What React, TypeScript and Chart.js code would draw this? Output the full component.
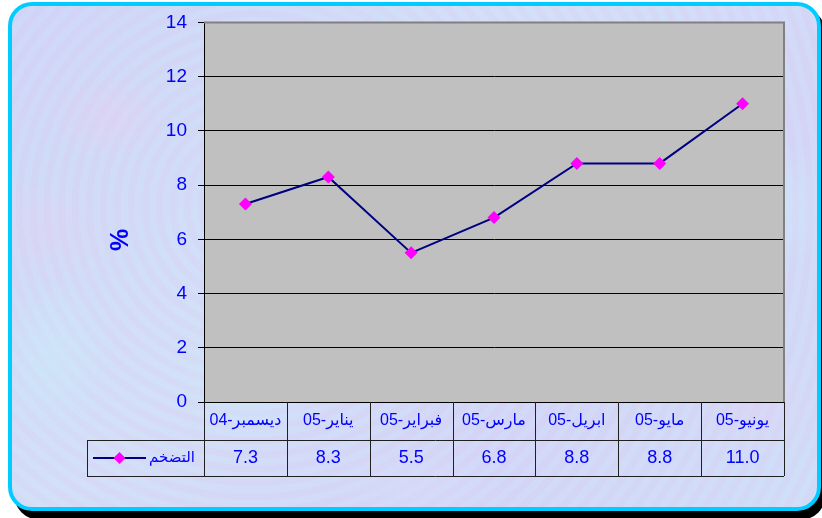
import React, { useEffect, useRef } from 'react';
import { Chart, registerables } from 'chart.js';

Chart.register(...registerables);

const categories = ['ديسمبر-04', 'يناير-05', 'فبراير-05', 'مارس-05', 'ابريل-05', 'مايو-05', 'يونيو-05'];
const inflation = [7.3, 8.3, 5.5, 6.8, 8.8, 8.8, 11.0];
const seriesName = 'التضخم';
const yTicks = [0, 2, 4, 6, 8, 10, 12, 14];

const BLUE = '#0000FF';
const NAVY = '#000080';
const MAGENTA = '#FF00FF';
const FONT = "Arial, 'Liberation Sans', 'DejaVu Sans', sans-serif";

// grey plot background + grey frame on top/right
const plotArea = {
    id: 'plotArea',
    beforeDraw(chart: any) {
        const { ctx, chartArea: a } = chart;
        ctx.save();
        ctx.fillStyle = '#C0C0C0';
        ctx.fillRect(a.left, a.top, a.right - a.left, a.bottom - a.top);
        ctx.restore();
    },
    afterDraw(chart: any) {
        const { ctx, chartArea: a } = chart;
        ctx.save();
        ctx.strokeStyle = '#808080';
        ctx.lineWidth = 2;
        ctx.beginPath();
        ctx.moveTo(a.left, a.top);
        ctx.lineTo(a.right, a.top);
        ctx.lineTo(a.right, a.bottom);
        ctx.stroke();
        ctx.strokeStyle = '#000';
        ctx.lineWidth = 1;
        ctx.beginPath();
        ctx.moveTo(a.left, a.bottom + 0.5);
        ctx.lineTo(a.right, a.bottom + 0.5);
        ctx.stroke();

        // y axis title
        ctx.translate(121, 240);
        ctx.rotate(-Math.PI / 2);
        ctx.fillStyle = BLUE;
        ctx.font = `bold 25px ${FONT}`;
        ctx.textAlign = 'center';
        ctx.textBaseline = 'middle';
        ctx.fillText('%', 0, 0);
        ctx.restore();
    },
};

// data table under the plot, laid out on the x scale
const dataTable = {
    id: 'dataTable',
    afterDraw(chart: any) {
        const { ctx, chartArea: a } = chart;
        const x = chart.scales.x;
        const n = categories.length;
        const w = (a.right - a.left) / n;
        const top = a.bottom;
        const mid = top + 38;
        const bottom = mid + 36;
        const tableLeft = 87;

        ctx.save();
        ctx.strokeStyle = '#202020';
        ctx.lineWidth = 1;
        ctx.beginPath();
        for (let i = 0; i <= n; i++) {
            const bx = Math.round(a.left + i * w) + 0.5;
            ctx.moveTo(bx, top);
            ctx.lineTo(bx, bottom);
        }
        ctx.moveTo(tableLeft, mid + 0.5);
        ctx.lineTo(a.right, mid + 0.5);
        ctx.moveTo(tableLeft, bottom + 0.5);
        ctx.lineTo(a.right, bottom + 0.5);
        ctx.moveTo(tableLeft + 0.5, mid);
        ctx.lineTo(tableLeft + 0.5, bottom);
        ctx.stroke();

        ctx.fillStyle = BLUE;
        ctx.textAlign = 'center';
        ctx.textBaseline = 'middle';
        categories.forEach((c, i) => {
            const cx = x.getPixelForValue(i);
            ctx.font = `16px ${FONT}`;
            ctx.fillText(c, cx, top + 19);
            ctx.font = `18px ${FONT}`;
            ctx.fillText(inflation[i].toFixed(1), cx, mid + 18);
        });

        // legend key
        const ly = mid + 18;
        ctx.strokeStyle = NAVY;
        ctx.lineWidth = 2;
        ctx.beginPath();
        ctx.moveTo(93, ly);
        ctx.lineTo(146, ly);
        ctx.stroke();
        ctx.fillStyle = MAGENTA;
        ctx.beginPath();
        ctx.moveTo(119.5, ly - 6);
        ctx.lineTo(125.5, ly);
        ctx.lineTo(119.5, ly + 6);
        ctx.lineTo(113.5, ly);
        ctx.closePath();
        ctx.fill();
        ctx.fillStyle = BLUE;
        ctx.font = `15px ${FONT}`;
        ctx.textAlign = 'left';
        ctx.fillText(seriesName, 149, ly);
        ctx.restore();
    },
};

const InflationChart = () => {
    const chartRef = useRef<HTMLCanvasElement>(null);

    useEffect(() => {
        document.body.style.margin = '0';
        if (!chartRef.current) return;
        const ctx = chartRef.current.getContext('2d');
        if (!ctx) return;

        const chart = new Chart(ctx, {
            type: 'line',
            data: {
                labels: categories,
                datasets: [{
                    label: seriesName,
                    data: inflation,
                    borderColor: NAVY,
                    borderWidth: 2,
                    pointStyle: 'rectRot',
                    pointRadius: 6.5,
                    pointBackgroundColor: MAGENTA,
                    pointBorderColor: MAGENTA,
                    pointBorderWidth: 0,
                    tension: 0,
                }],
            },
            options: {
                responsive: false,
                animation: false,
                layout: { padding: { left: 0, right: 38, top: 22, bottom: 116 } },
                plugins: { legend: { display: false }, tooltip: { enabled: false } },
                scales: {
                    x: { type: 'category', display: false, offset: true },
                    y: {
                        min: 0,
                        max: 14,
                        afterFit: (s: any) => { s.width = 204; },
                        afterBuildTicks: (s: any) => { s.ticks = yTicks.map(v => ({ value: v })); },
                        border: { display: true, color: '#000', width: 1 },
                        grid: {
                            color: (c: any) => (c.tick && c.tick.value === 14 ? '#808080' : '#000'),
                            lineWidth: 1,
                            tickLength: 6,
                            tickColor: '#000',
                        },
                        ticks: {
                            color: BLUE,
                            font: { family: FONT, size: 19 },
                            padding: 11,
                        },
                    },
                },
            },
            plugins: [plotArea, dataTable],
        });

        return () => chart.destroy();
    }, []);

    return <canvas ref={chartRef} width={822} height={518} style={{ position: 'absolute', left: 0, top: 0 }} />;
};

export default function App() {
    // soft mottled pastel texture
    const texture = [
        'radial-gradient(ellipse 60px 45px at 12% 22%, rgba(232,205,238,0.45), transparent)',
        'radial-gradient(ellipse 80px 60px at 30% 75%, rgba(200,236,250,0.5), transparent)',
        'radial-gradient(ellipse 70px 50px at 4% 45%, rgba(228,208,240,0.4), transparent)',
        'radial-gradient(ellipse 90px 70px at 93% 40%, rgba(205,236,250,0.5), transparent)',
        'radial-gradient(ellipse 70px 50px at 92% 80%, rgba(228,208,240,0.4), transparent)',
        'radial-gradient(ellipse 60px 80px at 5% 70%, rgba(200,236,250,0.5), transparent)',
        'radial-gradient(ellipse 90px 40px at 50% 96%, rgba(215,222,250,0.5), transparent)',
        'repeating-radial-gradient(circle at 30% 40%, rgba(210,225,250,0.25) 0 7px, rgba(215,205,245,0.25) 7px 14px)',
        'linear-gradient(135deg, #ced5f6, #d3e0f7 40%, #d3d6f6 70%, #d0def7)',
    ].join(',');

    return (
        <div style={{ position: 'relative', width: 822, height: 518, overflow: 'hidden', background: '#fff' }}>
            <div style={{ position: 'absolute', left: 14, top: 8, width: 812, height: 512, background: '#000', borderRadius: 26 }} />
            <div style={{
                position: 'absolute', left: 8, top: 2, width: 813, height: 509, boxSizing: 'border-box',
                border: '4px solid #00CCFF', borderRadius: 24, background: texture,
            }} />
            <InflationChart />
        </div>
    );
}
